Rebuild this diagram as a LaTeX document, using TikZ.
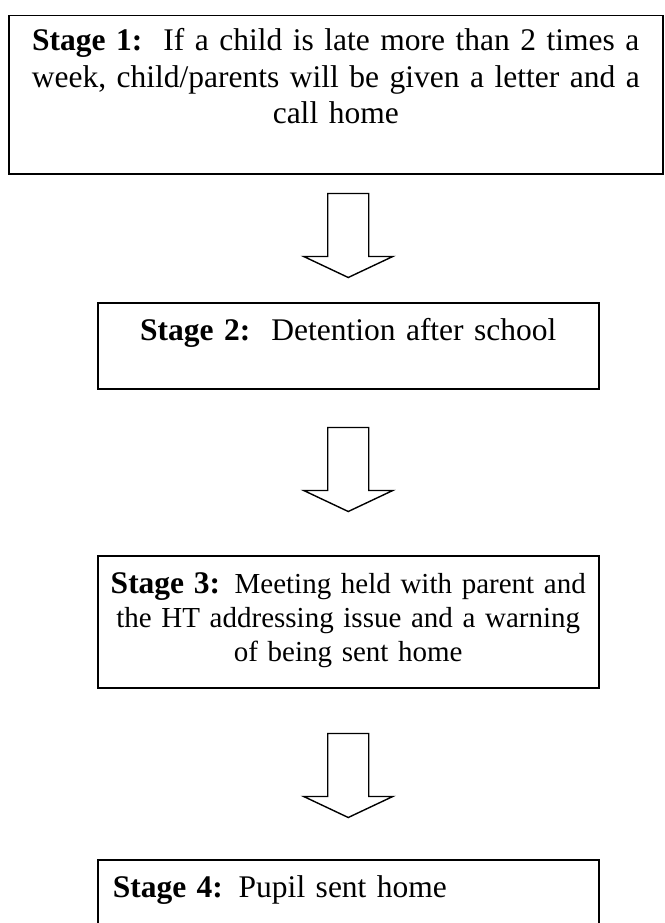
\documentclass[tikz,border=0pt]{standalone}
\usepackage{fontspec}
\setmainfont{Liberation Serif}
\usetikzlibrary{positioning, calc}
\newcommand\bigtext{\fontsize{31.5}{36.5}\selectfont}
\newcommand\midtext{\fontsize{29}{34}\selectfont}

\begin{document}
\begin{tikzpicture}[x=1pt, y=-1pt,
     box/.style = {draw, line width=1.5pt, inner ysep=0pt, inner xsep=5pt,
                   anchor=north west, align=center, font=\bigtext},
    blockarrow/.pic = {\draw[line width=1.4pt, line join=miter]
        (-20.5,0) -- (20.5,0) -- (20.5,63) -- (44.5,63) -- (0,84)
        -- (-44.5,63) -- (-20.5,63) -- cycle;}
]
  \useasboundingbox (0,0) rectangle (664,923);

  % Boxes
  \node[box, text width=644pt, text height=35pt, text depth=123pt] (stage1) at (8,15)
    {\textbf{Stage 1:}\ \ If a child is late more than 2 times a\\
     week, child/parents will be given a letter and a\\ call home};
  \node[box, text width=491pt, text height=38pt, text depth=48pt] (stage2) at (97,302)
    {\textbf{Stage 2:}\ \ Detention after school};
  \node[box, text width=491pt, text height=38pt, text depth=94pt, font=\midtext] (stage3) at (97,555)
    {{\bigtext\textbf{Stage 3:}} Meeting held with parent and\\
     the HT addressing issue and a warning\\ of being sent home};
  \node[box, text width=471pt, inner xsep=15pt, align=left, text height=38pt, text depth=48pt] (stage4) at (97,859)
    {\textbf{Stage 4:} Pupil sent home};

  % Arrows
  \pic at ([yshift=-19pt]stage1.south -| stage2.south) {blockarrow};
  \pic at ([yshift=-38pt]stage2.south) {blockarrow};
  \pic at ([yshift=-45pt]stage3.south) {blockarrow};
\end{tikzpicture}
\end{document}
